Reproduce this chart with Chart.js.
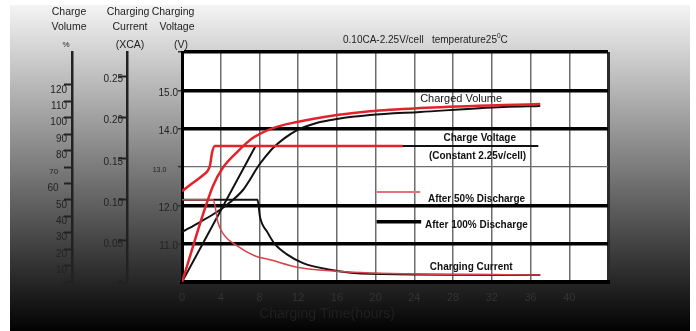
<!DOCTYPE html>
<html>
<head>
<meta charset="utf-8">
<script src="https://cdn.jsdelivr.net/npm/chart.js@4.4.1/dist/chart.umd.min.js"></script>
<style>
  html, body { margin: 0; padding: 0; background: #fff; }
  #wrap { width: 696px; height: 331px; position: relative; }
</style>
</head>
<body>
<div id="wrap"><canvas id="chargeChart"></canvas></div>
<script>
// tick values for each axis
var timeTicks = [0, 4, 8, 12, 16, 20, 24, 28, 32, 36, 40, 44];
var volumeTicks = [0, 10, 20, 30, 40, 50, 60, 70, 80, 90, 100, 110, 120];
var currentTicks = [0, 0.05, 0.10, 0.15, 0.20, 0.25];
var voltageTicks = [10, 11, 12, 13, 14, 15, 16];

// after 50% discharge (red)
var volume50Time = [0, 3.2, 4.2, 5.7, 7.3, 9.4, 11.9, 16, 19.4, 24.6, 33.2, 37];
var volume50 = [0, 58.4, 69.4, 79.1, 87.6, 93.7, 97.4, 101.6, 104, 105.9, 107.7, 108.3];
var voltage50Time = [0, 1.1, 2.2, 2.7, 2.9, 3.1, 3.4, 22.8];
var voltage50 = [12.37, 12.58, 12.79, 12.92, 13.05, 13.37, 13.55, 13.55];
var current50Time = [0, 3.2, 3.4, 3.7, 4.3, 5.7, 7.5, 9.1, 11.9, 16, 19.4, 37];
var current50 = [0.10, 0.10, 0.093, 0.073, 0.058, 0.044, 0.032, 0.027, 0.018, 0.013, 0.011, 0.0085];

// after 100% discharge (black)
var volume100Time = [0, 1.86, 3.6, 5.0, 6.3, 7.0, 7.75, 8.6, 9.4, 10.6, 11.9, 13.9, 16, 19.4, 24.6, 33.2, 37];
var volume100 = [30.4, 36.5, 42.6, 48.7, 56, 62.1, 69.4, 76.1, 81.6, 87.6, 92.5, 96.8, 99.2, 101.6, 103.5, 106.5, 107.1];
var voltage100Time = [0, 7.6, 36.8];
var voltage100 = [10.0, 13.55, 13.55];
var current100Time = [0, 7.8, 8.06, 8.8, 9.6, 10.8, 12.5, 15.3, 19.4, 37];
var current100 = [0.10, 0.10, 0.079, 0.061, 0.046, 0.034, 0.023, 0.015, 0.010, 0.0085];

var red = '#e2232b';
var black = '#111111';
var font = '"Liberation Sans", Arial, sans-serif';

function toPoints(xs, ys) {
  return xs.map(function (x, i) { return { x: x, y: ys[i] }; });
}

function setTicks(list) {
  return function (axis) {
    axis.ticks = list.map(function (v) { return { value: v }; });
  };
}

// background, white plot box
var backdrop = {
  id: 'backdrop',
  beforeDraw: function (chart) {
    var ctx = chart.ctx, a = chart.chartArea;
    ctx.save();
    ctx.fillStyle = '#fff';
    ctx.fillRect(0, 0, chart.width, chart.height);
    var g = ctx.createLinearGradient(0, 5, 0, chart.height);
    g.addColorStop(0, '#f4f4f4');
    g.addColorStop(1, '#020202');
    ctx.fillStyle = g;
    ctx.fillRect(10, 5, 680, chart.height - 5);
    ctx.fillStyle = '#fff';
    ctx.fillRect(a.left, a.top, a.right - a.left, a.bottom - a.top);
    ctx.restore();
  }
};

function text(ctx, s, x, y, f, align) {
  ctx.font = f;
  ctx.textAlign = align || 'left';
  ctx.textBaseline = 'middle';
  ctx.fillText(s, x, y);
}

// axis headers, title and notes on the plot
var notes = {
  id: 'notes',
  afterDatasetsDraw: function (chart) {
    var ctx = chart.ctx;
    var xs = chart.scales.x, vs = chart.scales.voltage;
    ctx.save();
    // legend samples
    ctx.lineCap = 'butt';
    ctx.strokeStyle = '#e57177';
    ctx.lineWidth = 2;
    ctx.beginPath();
    ctx.moveTo(xs.getPixelForValue(20.1), vs.getPixelForValue(12.35));
    ctx.lineTo(xs.getPixelForValue(24.6), vs.getPixelForValue(12.35));
    ctx.stroke();
    ctx.strokeStyle = '#000';
    ctx.lineWidth = 3.5;
    ctx.beginPath();
    ctx.moveTo(xs.getPixelForValue(20.1), vs.getPixelForValue(11.57));
    ctx.lineTo(xs.getPixelForValue(24.7), vs.getPixelForValue(11.57));
    ctx.stroke();

    ctx.fillStyle = '#111';
    var bold = 'bold 10px ' + font;
    text(ctx, 'Charged Volume', xs.getPixelForValue(24.6), vs.getPixelForValue(14.77), '11px ' + font);
    text(ctx, 'Charge Voltage', xs.getPixelForValue(27.0), vs.getPixelForValue(13.76), bold);
    text(ctx, '(Constant 2.25v/cell)', xs.getPixelForValue(25.5), vs.getPixelForValue(13.29), bold);
    text(ctx, 'After 50% Discharge', xs.getPixelForValue(25.4), vs.getPixelForValue(12.17), bold);
    text(ctx, 'After 100% Discharge', xs.getPixelForValue(25.1), vs.getPixelForValue(11.49), bold);
    text(ctx, 'Charging Current', xs.getPixelForValue(25.6), vs.getPixelForValue(10.39), bold);
    ctx.restore();
  },
  afterDraw: function (chart) {
    var ctx = chart.ctx;
    ctx.save();
    ctx.fillStyle = '#222';
    var f = '10.5px ' + font;
    text(ctx, 'Charge', 69, 12, f, 'center');
    text(ctx, 'Volume', 69, 27, f, 'center');
    text(ctx, '%', 66, 45, '8px ' + font, 'center');
    text(ctx, 'Charging', 128, 12, f, 'center');
    text(ctx, 'Current', 130, 27, f, 'center');
    text(ctx, '(XCA)', 130, 45, f, 'center');
    text(ctx, 'Charging', 173, 12, f, 'center');
    text(ctx, 'Voltage', 177, 27, f, 'center');
    text(ctx, '(V)', 181, 45, f, 'center');

    // title with superscript
    var t = '0.10CA-2.25V/cell   temperature25';
    text(ctx, t, 343, 40, '10px ' + font);
    ctx.font = '10px ' + font;
    var w = ctx.measureText(t).width;
    text(ctx, '0', 343 + w, 36, '6.5px ' + font);
    ctx.font = '6.5px ' + font;
    var w2 = ctx.measureText('0').width;
    text(ctx, 'C', 343 + w + w2, 40, '10px ' + font);

    // x axis title
    ctx.fillStyle = '#202020';
    text(ctx, 'Charging Time(hours)', 327, 314, '14px ' + font, 'center');
    ctx.restore();
  }
};

var ctx = document.getElementById('chargeChart').getContext('2d');
var chart = new Chart(ctx, {
  type: 'line',
  data: {
    datasets: [{
      label: 'Charged volume (50%)',
      data: toPoints(volume50Time, volume50),
      yAxisID: 'volume',
      borderColor: red,
      borderWidth: 2.5,
      cubicInterpolationMode: 'monotone'
    }, {
      label: 'Charge voltage (50%)',
      data: toPoints(voltage50Time, voltage50),
      yAxisID: 'voltage',
      borderColor: red,
      borderWidth: 2.5,
      cubicInterpolationMode: 'monotone'
    }, {
      label: 'Charging current (50%)',
      data: toPoints(current50Time, current50),
      yAxisID: 'current',
      borderColor: '#d8434b',
      borderWidth: 1.5,
      cubicInterpolationMode: 'monotone'
    }, {
      label: 'Charged volume (100%)',
      data: toPoints(volume100Time, volume100),
      yAxisID: 'volume',
      borderColor: black,
      borderWidth: 2,
      cubicInterpolationMode: 'monotone'
    }, {
      label: 'Charge voltage (100%)',
      data: toPoints(voltage100Time, voltage100),
      yAxisID: 'voltage',
      borderColor: black,
      borderWidth: 2,
      tension: 0
    }, {
      label: 'Charging current (100%)',
      data: toPoints(current100Time, current100),
      yAxisID: 'current',
      borderColor: black,
      borderWidth: 2,
      cubicInterpolationMode: 'monotone'
    }]
  },
  options: {
    responsive: true,
    maintainAspectRatio: false,
    devicePixelRatio: 1,
    animation: false,
    events: [],
    elements: { point: { radius: 0 } },
    layout: { padding: { top: 52, right: 88, bottom: 0, left: 0 } },
    plugins: { legend: { display: false }, tooltip: { enabled: false } },
    scales: {
      x: {
        type: 'linear',
        min: 0,
        max: 44,
        afterBuildTicks: setTicks(timeTicks),
        afterFit: function (s) { s.height = 49; },
        grid: {
          z: -2,
          drawTicks: false,
          color: function (c) { return c.tick && c.tick.value === 0 ? '#000' : (c.tick && c.tick.value === 44 ? '#2a2a2a' : '#6d6d6d'); },
          lineWidth: function (c) { return c.tick && (c.tick.value === 0 || c.tick.value === 44) ? 3 : 1.5; }
        },
        border: { color: '#000', width: 4 },
        ticks: {
          padding: 9,
          color: '#333',
          font: { family: font, size: 11 },
          callback: function (v) { return v === 44 ? '' : String(v); }
        }
      },
      volume: {
        type: 'linear',
        position: 'left',
        weight: 2,
        min: 0,
        max: 140,
        afterBuildTicks: setTicks(volumeTicks),
        afterFit: function (s) { s.width = 72; },
        grid: { drawOnChartArea: false, tickLength: 8, tickColor: '#222', tickWidth: 2 },
        border: { color: '#222', width: 2.5 },
        ticks: {
          padding: -3,
          labelOffset: 5,
          color: '#222',
          font: function (c) { return { family: font, size: c.tick && c.tick.value === 70 ? 8 : 10 }; },
          callback: function (v) {
            if (v === 70) return '70    ';
            if (v === 60) return '60   ';
            return String(v);
          }
        }
      },
      current: {
        type: 'linear',
        position: 'left',
        weight: 1,
        min: 0,
        max: 0.28,
        afterBuildTicks: setTicks(currentTicks),
        afterFit: function (s) { s.width = 55; },
        grid: { drawOnChartArea: false, tickLength: 8, tickColor: '#222', tickWidth: 2 },
        border: { color: '#222', width: 2.5 },
        ticks: {
          padding: -4,
          labelOffset: 3,
          color: '#222',
          font: { family: font, size: 10 },
          callback: function (v) { return v === 0 ? '0' : v.toFixed(2); }
        }
      },
      voltage: {
        type: 'linear',
        position: 'left',
        weight: 0,
        min: 10,
        max: 16,
        afterBuildTicks: setTicks(voltageTicks),
        afterFit: function (s) { s.width = 55; },
        grid: {
          z: -1,
          tickLength: 4,
          tickColor: '#333',
          tickWidth: 1.5,
          color: function (c) { return c.tick && c.tick.value === 13 ? '#6d6d6d' : '#000'; },
          lineWidth: function (c) { return c.tick && c.tick.value === 13 ? 1.2 : 3.5; }
        },
        border: { color: '#000', width: 3 },
        ticks: {
          padding: 0,
          labelOffset: 3,
          color: '#222',
          font: function (c) { return { family: font, size: c.tick && c.tick.value === 13 ? 7 : 10 }; },
          callback: function (v) {
            if (v === 10 || v === 16) return '';
            if (v === 13) return '13.0      ';
            return v.toFixed(1);
          }
        }
      }
    }
  },
  plugins: [backdrop, notes]
});
</script>
</body>
</html>
